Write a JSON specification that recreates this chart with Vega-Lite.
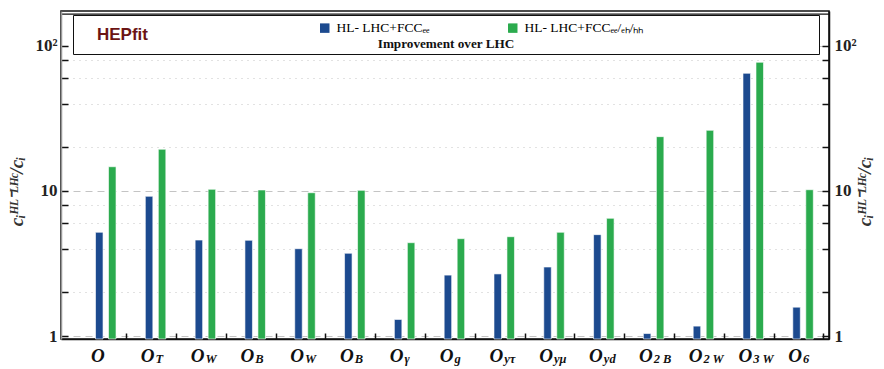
{
  "$schema": "https://vega.github.io/schema/vega-lite/v6.json",
  "width": 768,
  "height": 328,
  "autosize": {"type": "none"},
  "padding": {"left": 61, "top": 11, "right": 55, "bottom": 30},
  "background": "white",
  "title": {"text": "HEPfit", "anchor": "start", "orient": "top", "frame": "group", "offset": -33, "dx": 36, "font": "Liberation Sans", "fontSize": 17, "fontWeight": "bold", "color": "#6b1414", "zindex": 3},
  "config": {"view": {"stroke": "#111", "strokeWidth": 1.6}},
  "data": {"values": [
    {"op": "O", "scenario": "HL-LHC+FCC-ee", "value": 5.19},
    {"op": "O", "scenario": "HL-LHC+FCC-ee/eh/hh", "value": 14.7},
    {"op": "OT", "scenario": "HL-LHC+FCC-ee", "value": 9.19},
    {"op": "OT", "scenario": "HL-LHC+FCC-ee/eh/hh", "value": 19.4},
    {"op": "OW", "scenario": "HL-LHC+FCC-ee", "value": 4.59},
    {"op": "OW", "scenario": "HL-LHC+FCC-ee/eh/hh", "value": 10.27},
    {"op": "OB", "scenario": "HL-LHC+FCC-ee", "value": 4.57},
    {"op": "OB", "scenario": "HL-LHC+FCC-ee/eh/hh", "value": 10.16},
    {"op": "OHW", "scenario": "HL-LHC+FCC-ee", "value": 4.0},
    {"op": "OHW", "scenario": "HL-LHC+FCC-ee/eh/hh", "value": 9.73},
    {"op": "OHB", "scenario": "HL-LHC+FCC-ee", "value": 3.72},
    {"op": "OHB", "scenario": "HL-LHC+FCC-ee/eh/hh", "value": 10.1},
    {"op": "Ogamma", "scenario": "HL-LHC+FCC-ee", "value": 1.30},
    {"op": "Ogamma", "scenario": "HL-LHC+FCC-ee/eh/hh", "value": 4.40},
    {"op": "Og", "scenario": "HL-LHC+FCC-ee", "value": 2.63},
    {"op": "Og", "scenario": "HL-LHC+FCC-ee/eh/hh", "value": 4.69},
    {"op": "Oytau", "scenario": "HL-LHC+FCC-ee", "value": 2.68},
    {"op": "Oytau", "scenario": "HL-LHC+FCC-ee/eh/hh", "value": 4.84},
    {"op": "Oymu", "scenario": "HL-LHC+FCC-ee", "value": 2.99},
    {"op": "Oymu", "scenario": "HL-LHC+FCC-ee/eh/hh", "value": 5.19},
    {"op": "Oyd", "scenario": "HL-LHC+FCC-ee", "value": 5.0},
    {"op": "Oyd", "scenario": "HL-LHC+FCC-ee/eh/hh", "value": 6.48},
    {"op": "O2B", "scenario": "HL-LHC+FCC-ee", "value": 1.04},
    {"op": "O2B", "scenario": "HL-LHC+FCC-ee/eh/hh", "value": 23.7},
    {"op": "O2W", "scenario": "HL-LHC+FCC-ee", "value": 1.17},
    {"op": "O2W", "scenario": "HL-LHC+FCC-ee/eh/hh", "value": 26.2},
    {"op": "O3W", "scenario": "HL-LHC+FCC-ee", "value": 64.8},
    {"op": "O3W", "scenario": "HL-LHC+FCC-ee/eh/hh", "value": 77.2},
    {"op": "O6", "scenario": "HL-LHC+FCC-ee", "value": 1.58},
    {"op": "O6", "scenario": "HL-LHC+FCC-ee/eh/hh", "value": 10.2}
  ]},
  "layer": [
    {
      "mark": {"type": "bar", "width": 7.5, "stroke": "#ffffff", "strokeOpacity": 0.6, "strokeWidth": 1},
      "encoding": {
        "x": {"field": "op", "type": "nominal", "sort": null,
          "scale": {"type": "band", "paddingInner": 0, "paddingOuter": 0.21, "align": 0.95},
          "axis": {"orient": "bottom", "title": null, "labelExpr": "'O'", "labelAngle": 0, "labelAlign": "right", "labelOffset": -1,
            "labelFont": "Liberation Serif", "labelFontStyle": "italic", "labelFontWeight": "bold", "labelFontSize": 19,
            "labelColor": "#111", "labelPadding": 7, "ticks": false, "domain": true,
            "domainColor": "#111", "domainWidth": 1.5, "grid": false}},
        "xOffset": {"field": "scenario", "type": "nominal", "sort": null,
          "scale": {"type": "band", "paddingInner": 0.167, "paddingOuter": 1.85}},
        "y": {"field": "value", "type": "quantitative", "stack": null,
          "scale": {"type": "log", "domain": [0.9535, 174.3], "nice": false},
          "axis": {"orient": "left", "values": [1, 2, 4, 6, 8, 10, 20, 40, 60, 80, 100],
            "labelExpr": "datum.value == 100 ? '10²' : ((datum.value == 10 || datum.value == 1) ? datum.label : '')",
            "grid": true, "gridColor": "#c4c4c4", "gridWidth": 1,
            "gridDash": {"condition": {"test": "datum.value == 1 || datum.value == 10 || datum.value == 100", "value": [7, 5]}, "value": [1, 5]},
            "tickSize": -7, "tickColor": "#111", "tickWidth": 1.5,
            "domainColor": "#999", "domainWidth": 1.5,
            "labelFont": "Liberation Serif", "labelFontWeight": "bold", "labelFontSize": 17, "labelColor": "#222", "labelPadding": 11,
            "title": "cᵢᴴᴸ⁻ᴸᴴᶜ/cᵢ", "titleFont": "Liberation Serif", "titleFontStyle": "italic", "titleFontWeight": "bold",
            "titleFontSize": 19, "titleColor": "#333", "titleAngle": 270, "titleX": -35, "titleY": 180}},
        "color": {"field": "scenario", "type": "nominal", "sort": null,
          "scale": {"range": ["#1c4a8f", "#2bab4e"]},
          "legend": {"orient": "none", "legendX": 257, "legendY": 10, "direction": "horizontal", "columns": 2, "zindex": 2,
            "title": null, "padding": 0,
            "symbolType": "square", "symbolSize": 90, "symbolStrokeWidth": 0, "symbolOffset": 0, "columnPadding": 76,
            "labelFont": "Liberation Serif", "labelFontSize": 13.5, "labelOffset": 5, "labelLimit": 400,
            "labelExpr": "datum.value == 'HL-LHC+FCC-ee' ? 'HL- LHC+FCCₑₑ' : 'HL- LHC+FCCₑₑ/ₑₕ/ₕₕ'",
            "encode": {
              "labels": {"update": {"fill": {"signal": "datum.index === 0 ? '#1c4a8f' : '#2bab4e'"}}}
            }}}
      }
    },
    {
      "mark": {"type": "bar", "width": 7.5, "opacity": 0},
      "encoding": {
        "x": {"field": "op", "type": "nominal", "sort": null,
          "axis": {"orient": "bottom", "title": null, "bandPosition": 0.92, "labelAngle": 0,
            "labelExpr": "{'O':'','OT':'T','OW':'W','OB':'B','OHW':'W','OHB':'B','Ogamma':'γ','Og':'g','Oytau':'yτ','Oymu':'yμ','Oyd':'yd','O2B':'2 B','O2W':'2 W','O3W':'3 W','O6':'6'}[datum.value]",
            "labelAlign": "left", "labelOffset": 0, "labelPadding": 19,
            "labelFont": "Liberation Serif", "labelFontStyle": "italic", "labelFontWeight": "bold", "labelFontSize": 12.5, "labelColor": "#111",
            "ticks": true, "tickSize": -6, "tickColor": "#111", "tickWidth": 1.5, "domain": false, "grid": false}},
        "xOffset": {"field": "scenario", "type": "nominal", "sort": null},
        "y": {"field": "value", "type": "quantitative", "stack": null,
          "axis": {"orient": "right", "values": [1, 2, 4, 6, 8, 10, 20, 40, 60, 80, 100],
            "labelExpr": "datum.value == 100 ? '10²' : ((datum.value == 10 || datum.value == 1) ? datum.label : '')",
            "grid": false, "tickSize": -7, "tickColor": "#111", "tickWidth": 1.5,
            "domainColor": "#111", "domainWidth": 1.5,
            "labelFont": "Liberation Serif", "labelFontWeight": "bold", "labelFontSize": 17, "labelColor": "#222", "labelPadding": 12,
            "title": "cᵢᴴᴸ⁻ᴸᴴᶜ/cᵢ", "titleFont": "Liberation Serif", "titleFontStyle": "italic", "titleFontWeight": "bold",
            "titleFontSize": 19, "titleColor": "#333", "titleAngle": 270, "titleX": 45, "titleY": 180}},
        "strokeDash": {"field": "scenario", "type": "nominal",
          "scale": {"domain": ["HL-LHC+FCC-ee"], "range": [[1, 0]]},
          "legend": {"orient": "none", "legendX": 12, "legendY": 4, "zindex": 1,
            "fillColor": "white", "strokeColor": "#111", "padding": 3,
            "symbolOpacity": 0, "symbolSize": 90, "symbolOffset": 729, "labelExpr": "''", "labelOffset": 0,
            "title": "Improvement over LHC",
            "titleOrient": "bottom", "titleAnchor": "middle", "titleLimit": 2000,
            "titleFont": "Liberation Serif", "titleFontSize": 13.2, "titleFontWeight": "bold", "titleColor": "#111", "titlePadding": 9,
            "encode": {"legend": {"update": {"strokeWidth": {"value": 2}}}}}}
      }
    },
    {
      "mark": {"type": "bar", "width": 7.5, "opacity": 0},
      "encoding": {
        "x": {"field": "op", "type": "nominal", "sort": null,
          "axis": {"orient": "top", "title": null, "labels": false, "ticks": false, "grid": false,
            "domain": true, "domainColor": "#111", "domainWidth": 1.4, "offset": -2.6}},
        "xOffset": {"field": "scenario", "type": "nominal", "sort": null},
        "y": {"field": "value", "type": "quantitative", "stack": null, "axis": null}
      }
    }
  ],
  "resolve": {"axis": {"x": "independent", "y": "independent"}}
}
